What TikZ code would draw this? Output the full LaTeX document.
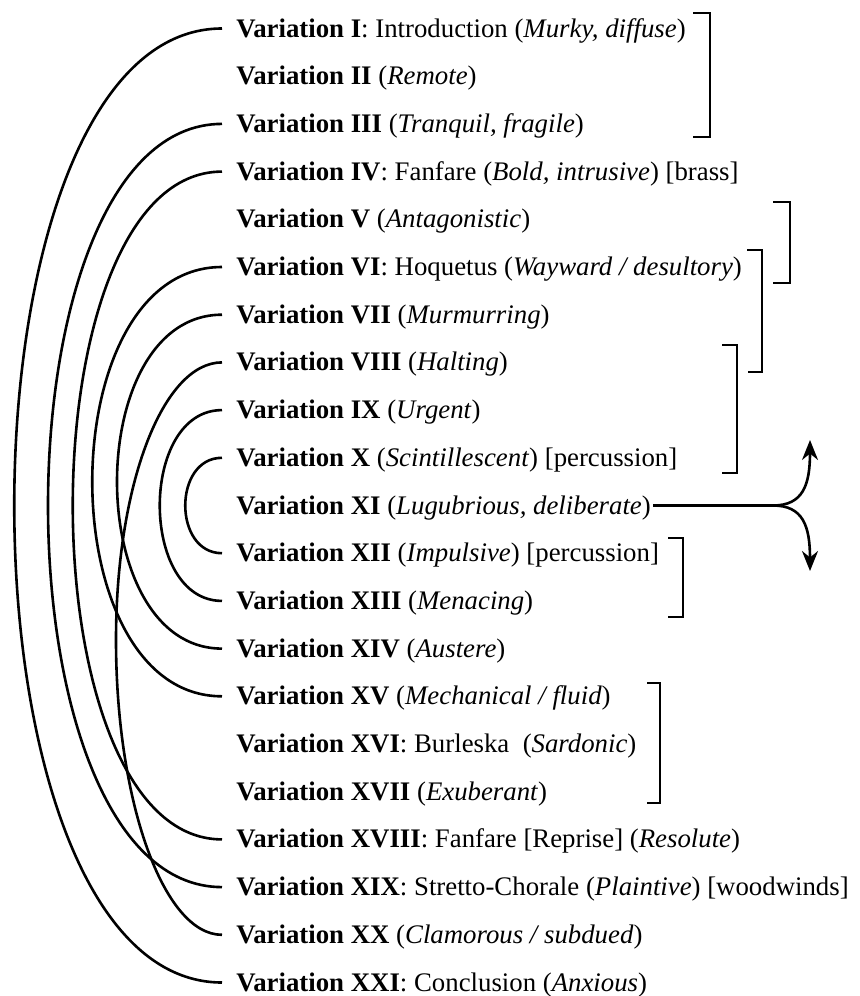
\documentclass[tikz,border=0pt]{standalone}
\usepackage{fontspec}
\setmainfont{Liberation Serif}
\usetikzlibrary{arrows.meta}

\begin{document}
\begin{tikzpicture}[x=0.5pt, y=-0.5pt,
  varnode/.style={anchor=west, inner xsep=7pt, inner ysep=0pt,
    text height=11pt, text depth=2.5pt, font=\fontsize{13.4}{16}\selectfont},
  arcline/.style={line width=1.3pt},
  bracket/.style={line width=1.4pt}]
  \useasboundingbox (0,0) rectangle (859,996);

  % the variations
  \node[varnode] (v1)  at (222,28.5)  {\textbf{Variation I}: Introduction (\textit{Murky, diffuse})};
  \node[varnode] (v2)  at (222,76.2)  {\textbf{Variation II} (\textit{Remote})};
  \node[varnode] (v3)  at (222,123.9) {\textbf{Variation III} (\textit{Tranquil, fragile})};
  \node[varnode] (v4)  at (222,171.6) {\textbf{Variation IV}: Fanfare (\textit{Bold, intrusive}) [brass]};
  \node[varnode] (v5)  at (222,219.3) {\textbf{Variation V} (\textit{Antagonistic})};
  \node[varnode] (v6)  at (222,267.0) {\textbf{Variation VI}: Hoquetus (\textit{Wayward / desultory})};
  \node[varnode] (v7)  at (222,314.7) {\textbf{Variation VII} (\textit{Murmurring})};
  \node[varnode] (v8)  at (222,362.4) {\textbf{Variation VIII} (\textit{Halting})};
  \node[varnode] (v9)  at (222,410.1) {\textbf{Variation IX} (\textit{Urgent})};
  \node[varnode] (v10) at (222,457.8) {\textbf{Variation X} (\textit{Scintillescent}) [percussion]};
  \node[varnode] (v11) at (222,505.5) {\textbf{Variation XI} (\textit{Lugubrious, deliberate})};
  \node[varnode] (v12) at (222,553.2) {\textbf{Variation XII} (\textit{Impulsive}) [percussion]};
  \node[varnode] (v13) at (222,600.9) {\textbf{Variation XIII} (\textit{Menacing})};
  \node[varnode] (v14) at (222,648.6) {\textbf{Variation XIV} (\textit{Austere})};
  \node[varnode] (v15) at (222,696.3) {\textbf{Variation XV} (\textit{Mechanical / fluid})};
  \node[varnode] (v16) at (222,744.0) {\textbf{Variation XVI}: Burleska\ \ (\textit{Sardonic})};
  \node[varnode] (v17) at (222,791.7) {\textbf{Variation XVII} (\textit{Exuberant})};
  \node[varnode] (v18) at (222,839.4) {\textbf{Variation XVIII}: Fanfare [Reprise] (\textit{Resolute})};
  \node[varnode] (v19) at (222,887.1) {\textbf{Variation XIX}: Stretto-Chorale (\textit{Plaintive}) [woodwinds]};
  \node[varnode] (v20) at (222,934.8) {\textbf{Variation XX} (\textit{Clamorous / subdued})};
  \node[varnode] (v21) at (222,982.5) {\textbf{Variation XXI}: Conclusion (\textit{Anxious})};

  % arcs on the left
  \coordinate (bend) at (116,640);
  \draw[arcline] (v1.west) .. controls +(-277,0) and +(-277,0) .. (v21.west);
  \draw[arcline] (v3.west) .. controls +(-232,0) and +(-232,0) .. (v19.west);
  \draw[arcline] (v4.west) .. controls +(-199,0) and +(-199,0) .. (v18.west);
  \draw[arcline] (v6.west) .. controls +(-173,0) and +(-173,0) .. (v15.west);
  \draw[arcline] (v7.west) .. controls +(-140,0) and +(-140,0) .. (v14.west);
  \draw[arcline] (v8.west) .. controls +(-59,0) and +(0,-156) .. (bend)
                           .. controls +(0,160) and +(-59,0) .. (v20.west);
  \draw[arcline] (v9.west) .. controls +(-83,0) and +(-83,0) .. (v13.west);
  \draw[arcline] (v10.west) .. controls +(-49,0) and +(-49,0) .. (v12.west);

  % brackets on the right
  \draw[bracket] (693,13) -- (710,13) -- (710,137) -- (693,137);
  \draw[bracket] (773,202) -- (790,202) -- (790,283) -- (773,283);
  \draw[bracket] (747,250) -- (762,250) -- (762,372) -- (748,372);
  \draw[bracket] (722,345) -- (737,345) -- (737,473) -- (722,473);
  \draw[bracket] (668,538) -- (683,538) -- (683,617) -- (668,617);
  \draw[bracket] (647,683) -- (660,683) -- (660,803) -- (647,803);

  % fork after XI
  \coordinate (fork) at (773,505.5);
  \coordinate (up) at (810,440);
  \coordinate (down) at (810,571);
  \draw[arcline, shorten <=-6pt] (v11.east) -- (fork);
  \draw[arcline, -{Stealth[length=10pt,width=8pt]}] (fork) .. controls +(30,0) and +(0,45) .. (up);
  \draw[arcline, -{Stealth[length=10pt,width=8pt]}] (fork) .. controls +(30,0) and +(0,-45) .. (down);
\end{tikzpicture}
\end{document}
